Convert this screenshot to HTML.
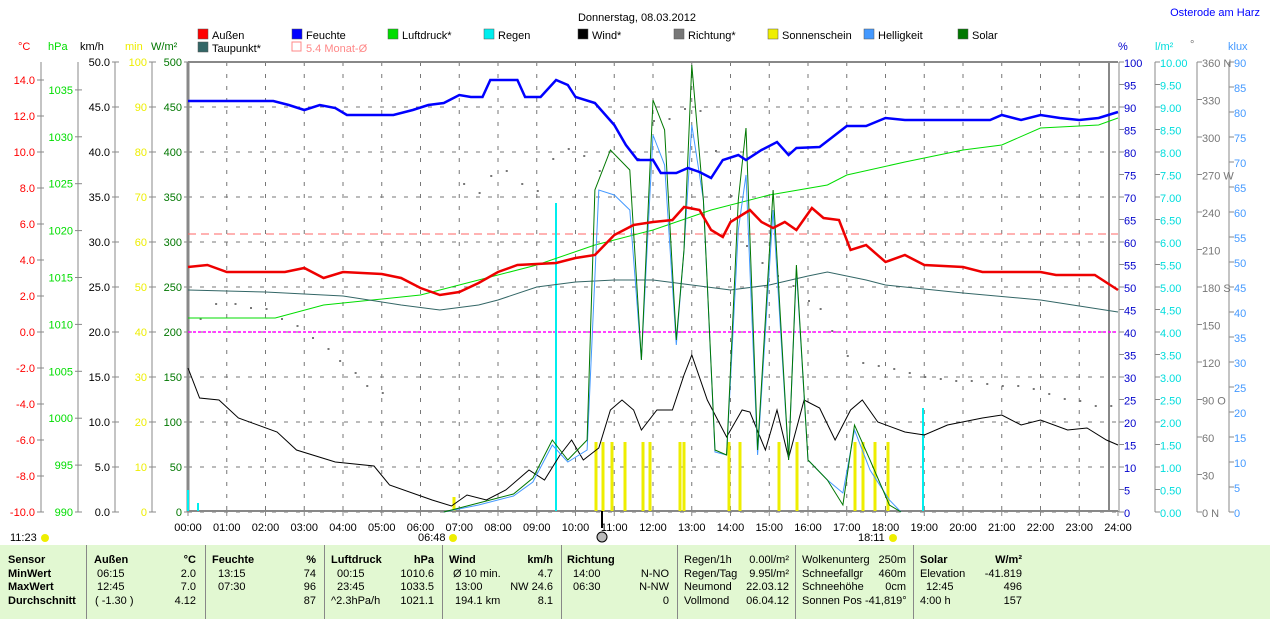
<!DOCTYPE html>
<html><head><meta charset="utf-8"><style>
body{margin:0;width:1270px;height:619px;overflow:hidden;background:#fff;font-family:"Liberation Sans",sans-serif;}
svg text{font-family:"Liberation Sans",sans-serif;font-size:11px}
#tbl{position:absolute;left:0;top:545px;width:1270px;height:74px;background:#e2f8d2;font-size:11px}
#tbl div{position:absolute;white-space:nowrap}
.b{font-weight:bold}
.sep{border-left:1px solid #888;top:0;height:74px}
</style></head><body>
<svg id="s" width="1270" height="545" style="position:absolute;left:0;top:0"></svg>
<div id="tbl"></div>
<script>
const S=document.getElementById('s');let h='';
const X=t=>188+t*38.75;
function txt(x,y,s,c,a,sz){h+=`<text x="${x}" y="${y}" fill="${c||'#000'}" text-anchor="${a||'start'}"${sz?` font-size="${sz}"`:''}>${s}</text>`}
function ln(x1,y1,x2,y2,c,w,d){h+=`<line x1="${x1}" y1="${y1}" x2="${x2}" y2="${y2}" stroke="${c}" stroke-width="${w||1}"${d?` stroke-dasharray="${d}"`:''}/>`}
function pl(p,c,w){let s=p.map(q=>X(q[0]).toFixed(1)+','+q[1]).join(' ');h+=`<polyline points="${s}" fill="none" stroke="${c}" stroke-width="${w||1}"/>`}
txt(637,21,'Donnerstag, 08.03.2012','#000','middle',16);
txt(1260,16,'Osterode am Harz','#00f','end');
// grid
for(let i=0;i<=10;i++){let y=62+i*45;ln(188,y,1118,y,'#777',1,'4,8');}
for(let t=1;t<24;t++)ln(X(t),62,X(t),512,'#777',1,'4,8');
ln(188,62,1118,62,'#888',2);ln(188,511,1118,511,'#888',2);
ln(188,62,188,512,'#888',3);ln(1109,62,1109,512,'#888',2);ln(1119,62,1119,512,'#888',1);
// left axes
ln(41,62,41,512,'#888');ln(78,62,78,512,'#888');ln(115,62,115,512,'#888');ln(152,62,152,512,'#888');
for(let v=14;v>=-10;v-=2){let y=332-v*18;ln(37,y,44,y,'#888');txt(35,y+4,v.toFixed(1),'#f00','end',12);}
for(let v=1035;v>=990;v-=5){let y=512-(v-990)*9.38;ln(75,y,82,y,'#888');txt(73,y+4,v,'#0d0','end',12);}
for(let i=0;i<=10;i++){let y=62+i*45;ln(112,y,119,y,'#888');txt(110,y+4,(50-i*5).toFixed(1),'#000','end',12);
ln(149,y,156,y,'#888');txt(147,y+4,100-i*10,'#ee0','end',12);ln(184,y,188,y,'#888');txt(182,y+4,500-i*50,'#070','end',12);}
txt(18,50,'°C','#f00');txt(48,50,'hPa','#0d0');txt(80,50,'km/h','#000');txt(125,50,'min','#ee0');txt(151,50,'W/m²','#070');
// right axes
ln(1155,62,1155,512,'#888');ln(1197,62,1197,512,'#888');ln(1229,62,1229,512,'#888');
const dirs={360:'N',270:'W',180:'S',90:'O',0:'N'};
for(let i=0;i<=20;i++){let y=62+i*22.5;ln(1119,y,1124,y,'#888');txt(1124,y+5,100-i*5,'#00c','start',12);
ln(1155,y,1160,y,'#888');txt(1160,y+5,(10-i*0.5).toFixed(2),'#0dd','start',12);}
for(let i=0;i<=18;i++){let y=62+i*25;ln(1229,y,1234,y,'#888');txt(1234,y+5,90-i*5,'#49f','start',12);}
for(let d=360;d>=0;d-=30){let y=512-d*1.25;ln(1197,y,1202,y,'#888');txt(1202,y+5,d+(dirs[d]?' '+dirs[d]:''),'#777','start',12);}
txt(1118,50,'%','#00c');txt(1155,50,'l/m²','#0dd');txt(1190,48,'°','#777');txt(1228,50,'klux','#49f');
// x labels
for(let t=0;t<=24;t++){ln(X(t),511,X(t),516,'#888');txt(X(t),531,(t<10?'0':'')+t+':00','#000','middle',12);}
txt(10,541,'11:23','#000','start',11);h+=`<circle cx="45" cy="538" r="4" fill="#ee0"/>`;
txt(418,541,'06:48','#000','start',11);h+=`<circle cx="453" cy="538" r="4" fill="#ee0"/>`;
txt(858,541,'18:11','#000','start',11);h+=`<circle cx="893" cy="538" r="4" fill="#ee0"/>`;
ln(602,511,602,528,'#000',2);h+=`<circle cx="602" cy="537" r="5" fill="#bbb" stroke="#000"/>`;
// legend
const L=[[198,38,'#f00','Außen'],[292,38,'#00f','Feuchte'],[388,38,'#0d0','Luftdruck*'],[484,38,'#0ee','Regen'],[578,38,'#000','Wind*'],[674,38,'#777','Richtung*'],[768,38,'#ee0','Sonnenschein'],[864,38,'#49f','Helligkeit'],[958,38,'#070','Solar'],[198,51,'#366','Taupunkt*']];
L.forEach(l=>{h+=`<rect x="${l[0]}" y="${l[1]-9}" width="10" height="10" fill="${l[2]}" stroke="#555" stroke-width="0.5"/>`;txt(l[0]+14,l[1]+1,l[3]);});
h+=`<rect x="292" y="42" width="9" height="9" fill="none" stroke="#f88"/>`;txt(306,52,'5.4 Monat-Ø','#f88');
// reference lines
ln(188,234,1118,234,'#f66',1,'8,5');ln(188,332,1118,332,'#f0f',1.5,'3,2');
// sunshine bars
[596,603,612,625,643,650,680,684,729,740,779,797,855,863,875,888].forEach(x=>ln(x,442,x,511,'#ee0',3));
ln(454,497,454,511,'#ee0',3);
// rain
ln(556,203,556,511,'#0ee',2);ln(923,408,923,511,'#0ee',2);ln(188,490,188,511,'#0ee',2);ln(198,503,198,511,'#0ee',2);
// direction dots
const dd=[[0.3,318],[0.7,303],[1.2,303],[1.6,307],[2.0,308],[2.4,318],[2.8,325],[3.2,337],[3.6,348],[3.9,360],[4.3,372],[4.6,385],[5.0,392],[7.1,183],[7.5,192],[7.8,175],[8.2,170],[8.6,183],[9.0,190],[9.4,158],[9.8,148],[10.2,155],[10.6,170],[11.6,158],[12.0,120],[12.4,118],[12.8,108],[13.2,110],[13.6,150],[14.0,195],[14.4,245],[14.8,262],[15.2,275],[15.6,285],[16.0,300],[16.3,308],[16.6,330],[17.0,355],[17.4,362],[17.8,365],[18.2,368],[18.6,372],[19.0,376],[19.4,378],[19.8,380],[20.2,380],[20.6,383],[21.0,385],[21.4,385],[21.8,388],[22.2,393],[22.6,398],[23.0,400],[23.4,405],[23.8,405]];
dd.forEach(p=>h+=`<rect x="${X(p[0])}" y="${p[1]}" width="2" height="2" fill="#777"/>`);
// pressure
pl([[0,318],[2.25,318],[3.5,305],[6,295],[7.5,280],[9,265],[10.5,245],[12,230],[13.5,210],[15,195],[16.5,185],[17,175],[18.5,162],[20,150],[21,145],[22,128],[23.5,125],[24,118]],'#0d0');
// dewpoint
pl([[0,290],[2,292],[4,296],[5.5,305],[6.5,310],[7.5,305],[8,300],[9,287],[10,282],[11,280],[12,280],[13,285],[14,290],[15,285],[16,276],[16.5,272],[17.5,280],[18,285],[20,293],[22,300],[24,312]],'#366');
// wind
pl([[0,368],[0.3,398],[0.8,400],[1.3,418],[2.3,432],[2.8,450],[3.8,462],[4.8,466],[5.2,485],[6.3,500],[6.8,506],[7.2,495],[7.7,500],[8.2,490],[8.8,470],[9.2,480],[9.6,455],[9.9,440],[10.2,460],[10.6,448],[10.9,410],[11.2,400],[11.5,410],[11.7,430],[12.1,410],[12.5,410],[12.8,375],[13.0,355],[13.4,400],[13.9,437],[14.3,410],[14.5,412],[14.9,450],[15.2,410],[15.5,458],[15.9,400],[16.3,408],[16.7,440],[17.1,410],[17.4,400],[17.8,422],[18.5,432],[19.0,435],[19.6,425],[20.5,418],[21.0,415],[21.5,425],[22.0,420],[22.7,430],[23.2,428],[23.7,440],[24,445]],'#000');
// helligkeit
pl([[6.6,512],[7.5,505],[8.4,496],[8.9,482],[9.4,445],[9.8,462],[10.3,450],[10.6,190],[11.0,195],[11.4,210],[11.7,360],[12.0,135],[12.3,165],[12.6,345],[12.8,250],[13.0,125],[13.3,200],[13.6,452],[13.9,455],[14.2,230],[14.4,175],[14.7,455],[15.1,210],[15.5,460],[15.7,270],[16.0,460],[16.5,480],[16.9,493],[17.2,430],[17.6,470],[18.1,500],[18.4,512]],'#49f');
// solar
pl([[6.6,512],[7.5,503],[8.4,494],[8.9,478],[9.4,440],[9.8,460],[10.3,440],[10.5,190],[10.9,150],[11.4,170],[11.7,360],[12.0,100],[12.3,130],[12.6,340],[12.8,250],[13.0,65],[13.3,200],[13.6,450],[13.9,455],[14.2,200],[14.4,128],[14.7,450],[15.1,190],[15.5,460],[15.7,265],[16.0,460],[16.5,480],[16.9,505],[17.2,425],[17.6,460],[18.1,505],[18.4,512]],'#070');
// temperature
pl([[0,267],[0.5,265],[1,272],[2.5,272],[3,268],[3.5,278],[4,272],[5,274],[5.5,278],[6,288],[6.5,295],[7,292],[7.5,283],[8,272],[8.5,265],[9.5,263],[10,258],[10.5,255],[11,235],[11.5,225],[12,222],[12.5,220],[12.8,207],[13.2,210],[13.5,230],[13.8,237],[14,222],[14.5,210],[14.8,222],[15.1,228],[15.4,222],[15.7,230],[16.1,208],[16.4,218],[16.8,220],[17.1,250],[17.5,245],[18,262],[18.5,255],[19,265],[20,267],[20.5,272],[22,272],[22.4,275],[23.4,275],[24,290]],'#e00',2.5);
// humidity
pl([[0,101],[2.2,101],[2.6,105],[3,110],[3.4,105],[3.8,108],[4.1,115],[5.3,115],[5.8,110],[6.2,105],[6.6,103],[7,95],[7.3,97],[7.6,97],[7.8,80],[8.5,80],[8.7,97],[9.1,97],[9.5,80],[9.8,85],[10,97],[10.5,103],[11,125],[11.3,145],[11.6,160],[12.0,160],[12.2,173],[12.6,173],[12.9,168],[13.2,172],[13.5,178],[13.8,160],[14.2,155],[14.4,160],[14.8,150],[15.2,142],[15.5,155],[15.7,148],[16.3,147],[16.6,138],[17.0,126],[17.5,126],[18.0,118],[18.5,120],[20,120],[20.7,120],[21.0,115],[21.5,120],[22,115],[22.5,118],[23,120],[23.5,118],[24,112]],'#00f',2.5);
S.innerHTML=h;
// table
const T=document.getElementById('tbl');let t='';
function c(x,y,s,cls,al){t+=`<div class="${cls||''}" style="${al?'right:'+(1270-x)+'px':'left:'+x+'px'};top:${y}px">${s}</div>`}
const R=[4,18,31,45,59];
c(8,R[0]+5,'Sensor','b');c(8,R[1]+5,'MinWert','b');c(8,R[2]+5,'MaxWert','b');c(8,R[3]+5,'Durchschnitt','b');
[86,205,324,442,561,677,795,913].forEach(x=>t+=`<div class="sep" style="left:${x}px"></div>`);
const rows=[
[[94,'Außen','b'],[196,'°C','b',1],[212,'Feuchte','b'],[316,'%','b',1],[331,'Luftdruck','b'],[434,'hPa','b',1],[449,'Wind','b'],[553,'km/h','b',1],[567,'Richtung','b'],[684,'Regen/1h'],[789,'0.00l/m²','',1],[802,'Wolkenunterg'],[906,'250m','',1],[920,'Solar','b'],[1022,'W/m²','b',1]],
[[97,'06:15'],[196,'2.0','',1],[218,'13:15'],[316,'74','',1],[337,'00:15'],[434,'1010.6','',1],[453,'Ø 10 min.'],[553,'4.7','',1],[573,'14:00'],[669,'N-NO','',1],[684,'Regen/Tag'],[789,'9.95l/m²','',1],[802,'Schneefallgr'],[906,'460m','',1],[920,'Elevation'],[1022,'-41.819','',1]],
[[97,'12:45'],[196,'7.0','',1],[218,'07:30'],[316,'96','',1],[337,'23:45'],[434,'1033.5','',1],[455,'13:00'],[553,'NW 24.6','',1],[573,'06:30'],[669,'N-NW','',1],[684,'Neumond'],[789,'22.03.12','',1],[802,'Schneehöhe'],[906,'0cm','',1],[926,'12:45'],[1022,'496','',1]],
[[95,'( -1.30 )'],[196,'4.12','',1],[316,'87','',1],[331,'^2.3hPa/h'],[434,'1021.1','',1],[455,'194.1 km'],[553,'8.1','',1],[669,'0','',1],[684,'Vollmond'],[789,'06.04.12','',1],[802,'Sonnen Pos&nbsp;-41,819°'],[920,'4:00 h'],[1022,'157','',1]]];
rows.forEach((r,i)=>r.forEach(e=>c(e[0],R[i]+5,e[1],e[2],e[3])));
T.innerHTML=t;
</script>
</body></html>
